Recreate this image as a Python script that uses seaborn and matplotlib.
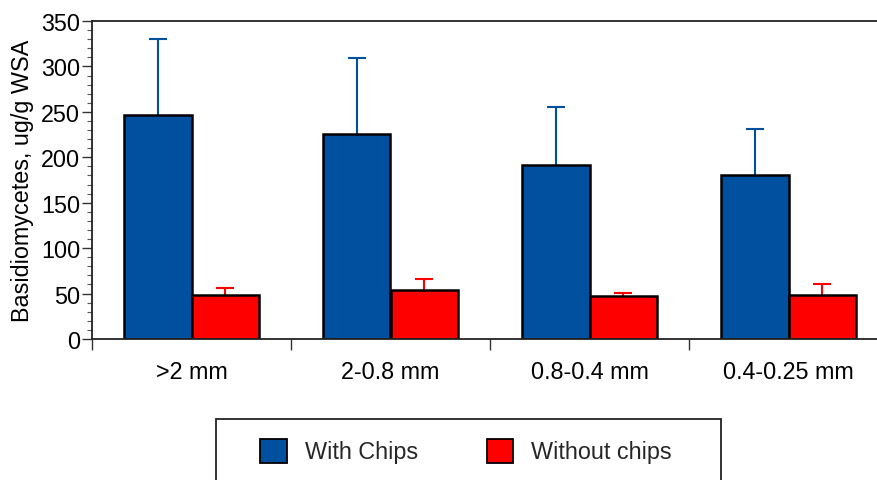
import numpy as np
import pandas as pd
import matplotlib
matplotlib.use("Agg")
import matplotlib.pyplot as plt
from matplotlib.patches import Rectangle, Patch
from matplotlib.ticker import MultipleLocator, FixedLocator
import seaborn as sns

categories = [">2 mm", "2-0.8 mm", "0.8-0.4 mm", "0.4-0.25 mm"]
series = ["With Chips", "Without chips"]
with_chips = [247, 226, 191, 180]
with_chips_err = [83, 83, 64, 51]
without_chips = [48.5, 54, 47.5, 48.5]
without_chips_err = [8, 12, 3, 12]
colors = ["#0050A0", "#FF0000"]

FS = 16.8

sns.set_theme(style="white")
plt.rcParams["font.family"] = ["Liberation Sans", "DejaVu Sans"]

df = pd.DataFrame({
    "size": categories * 2,
    "treatment": [series[0]] * 4 + [series[1]] * 4,
    "value": with_chips + without_chips,
})

fig = plt.figure(figsize=(8.77, 4.81), dpi=100)
ax = fig.add_axes([92 / 877, 1 - 340 / 481, 796 / 877, 318 / 481])

sns.barplot(data=df, x="size", y="value", hue="treatment", order=categories,
            hue_order=series, palette=colors, width=0.675, gap=0,
            edgecolor="black", linewidth=1.8, saturation=1, errorbar=None,
            legend=False, ax=ax)

# error bars (upper only)
nb = len(categories)
patches = ax.patches[: 2 * nb]
errs = [with_chips_err, without_chips_err]
vals = [with_chips, without_chips]
for s in range(2):
    xs = [patches[s * nb + i].get_x() + patches[s * nb + i].get_width() / 2 for i in range(nb)]
    eb = ax.errorbar(xs, vals[s], yerr=[np.zeros(nb), errs[s]], fmt="none",
                     ecolor=colors[s], elinewidth=1.5, capsize=6.5, capthick=1.5, zorder=0.5)
    for cl in eb[1]:
        if np.allclose(cl.get_ydata(), vals[s]):
            cl.set_visible(False)

ax.set_xlim(-0.5, 3.5)
ax.set_ylim(0, 350)
ax.yaxis.set_major_locator(MultipleLocator(50))
ax.yaxis.set_minor_locator(MultipleLocator(10))
ax.tick_params(axis="y", which="major", direction="out", length=7, width=1, color="#333333",
               left=True, labelsize=FS, pad=1.5, labelcolor="black")
ax.tick_params(axis="y", which="minor", direction="out", length=3.5, width=0.8, color="#555555", left=True)

ax.xaxis.set_major_locator(FixedLocator([-0.5, 0.5, 1.5, 2.5]))
ax.xaxis.set_major_formatter(plt.NullFormatter())
ax.xaxis.set_minor_locator(FixedLocator(range(nb)))
ax.set_xticklabels(categories, minor=True)
ax.tick_params(axis="x", which="major", direction="out", length=8, width=1, color="#333333", bottom=True)
ax.tick_params(axis="x", which="minor", length=0, labelsize=FS, pad=15, labelcolor="black")

ax.set_xlabel("")
ax.set_ylabel("Basidiomycetes, ug/g WSA", fontsize=FS, color="black", labelpad=5)

for side in ["top", "left", "bottom"]:
    ax.spines[side].set_visible(True)
    ax.spines[side].set_color("#222222")
    ax.spines[side].set_linewidth(1.3)
ax.spines["right"].set_visible(False)

# legend box (extends past the bottom edge of the figure)
fig.patches.append(Rectangle((216 / 877, -0.05), 505 / 877, (1 - 420 / 481) + 0.05,
                             transform=fig.transFigure, fill=False, edgecolor="#222222",
                             linewidth=1.3))
handles = [Patch(facecolor=colors[i], edgecolor="black", linewidth=1.3, label=series[i]) for i in range(2)]
fig.legend(handles=handles, loc="center left", bbox_to_anchor=(260 / 877, 1 - 452 / 481),
           ncol=2, frameon=False, fontsize=FS, handlelength=1.15, handleheight=1.2,
           handletextpad=0.76, columnspacing=2.95, borderaxespad=0, borderpad=0)

fig.savefig("out.png", dpi=100)
